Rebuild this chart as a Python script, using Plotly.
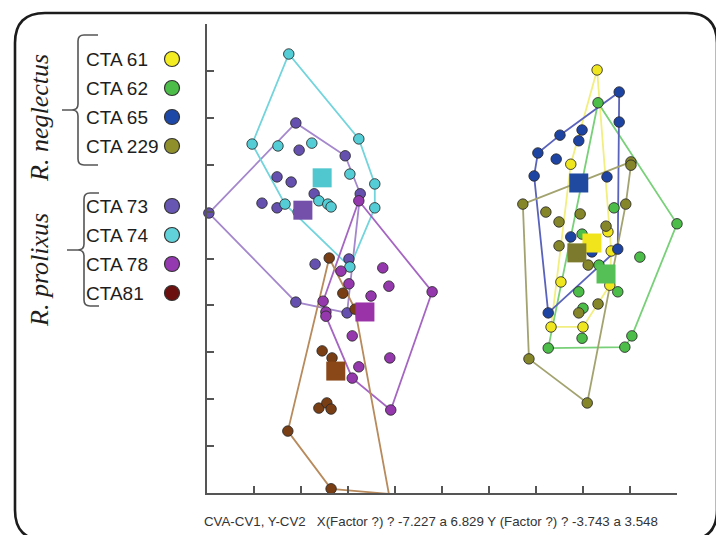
import plotly.graph_objects as go

# ---------------- data (axis units) ----------------
groups = ["CTA 61", "CTA 62", "CTA 65", "CTA 229", "CTA 73", "CTA 74", "CTA 78", "CTA81"]

cta61_x = [8.30, 7.74, 8.53, 8.60, 7.53, 8.57, 7.32, 8.00]
cta61_y = [9.02, 7.01, 5.57, 5.16, 4.50, 4.43, 3.54, 3.54]

cta62_x = [8.32, 8.66, 10.00, 7.98, 9.21, 8.34, 7.91, 8.74, 8.00, 7.98, 9.04, 7.26, 8.89]
cta62_y = [8.32, 6.08, 5.74, 5.52, 5.03, 4.86, 4.29, 4.29, 3.94, 3.30, 3.35, 3.09, 3.11]

cta65_x = [8.77, 8.77, 7.98, 7.51, 7.91, 7.04, 7.43, 6.96, 8.51, 7.74, 8.19, 8.74, 7.26]
cta65_y = [8.55, 7.91, 7.74, 7.63, 7.51, 7.25, 7.12, 6.76, 6.74, 5.46, 5.14, 5.20, 3.84]

cta229_x = [9.02, 9.02, 6.72, 8.91, 7.21, 7.94, 7.49, 8.49, 7.49, 8.11, 8.32, 7.91, 6.85, 8.09]
cta229_y = [7.06, 6.99, 6.16, 6.16, 5.99, 5.95, 5.78, 5.69, 5.27, 4.86, 4.03, 3.84, 2.86, 1.92]

cta73_x = [1.89, 1.96, 2.94, 1.49, 1.79, 1.17, 1.49, 2.28, 0.04, 3.26, 3.02, 2.30, 1.89, 2.98]
cta73_y = [7.89, 7.31, 7.19, 6.74, 6.63, 6.18, 6.08, 6.38, 5.97, 6.38, 4.99, 4.88, 4.07, 3.84]

cta74_x = [1.74, 0.96, 1.51, 2.23, 3.23, 3.04, 3.57, 3.57, 1.66, 2.38, 2.57, 2.64, 1.94, 3.04]
cta74_y = [9.36, 7.44, 7.40, 7.46, 7.55, 6.80, 6.59, 6.08, 6.16, 6.23, 6.16, 6.10, 5.99, 4.82]

cta78_x = [3.23, 2.85, 3.74, 3.87, 3.02, 3.49, 4.79, 2.47, 2.53, 2.53, 3.09, 3.89, 3.23, 3.09, 3.91]
cta78_y = [6.23, 4.73, 4.80, 4.41, 4.46, 4.20, 4.29, 4.09, 3.86, 3.77, 3.35, 2.88, 2.69, 2.45, 1.77]

cta81_x = [2.60, 2.89, 3.15, 2.45, 2.66, 2.38, 2.55, 2.64, 1.72, 2.64, 3.87]
cta81_y = [5.01, 4.26, 3.92, 3.03, 2.88, 1.81, 1.92, 1.79, 1.32, 0.09, -0.02]

mean_x = [8.19, 8.49, 7.91, 7.87, 2.04, 2.45, 3.36, 2.74]
mean_y = [5.33, 4.67, 6.61, 5.12, 6.03, 6.72, 3.86, 2.60]

species = ["R. neglectus", "R. prolixus"]
caption = "CVA-CV1, Y-CV2 \u00a0\u00a0X(Factor ?) ? -7.227 a 6.829 Y (Factor ?) ? -3.743 a 3.548"

# ---------------- styles ----------------
pt_color = ["#efe61f", "#4cbd49", "#1e44a3", "#85852a", "#6550b0", "#55cdd6", "#9538ae", "#7a3e14"]
ln_color = ["#f2ee80", "#78d078", "#5a63bb", "#a3a370", "#a487cc", "#72d4dc", "#a565c2", "#b88a5c"]
sq_color = ["#f2e41c", "#55c055", "#1f4aa0", "#7c7a2c", "#7450aa", "#50c6cf", "#9a33a8", "#8a4718"]
lg_color = ["#f4ec22", "#4cbd49", "#1d48a8", "#8f902c", "#6856b3", "#62d2da", "#9539b0", "#6c0f0f"]

series_x = [cta61_x, cta62_x, cta65_x, cta229_x, cta73_x, cta74_x, cta78_x, cta81_x]
series_y = [cta61_y, cta62_y, cta65_y, cta229_y, cta73_y, cta74_y, cta78_y, cta81_y]


def hull(xs, ys):
    pts = sorted(set(zip(xs, ys)))

    def cross(o, a, b):
        return (a[0] - o[0]) * (b[1] - o[1]) - (a[1] - o[1]) * (b[0] - o[0])

    lower, upper = [], []
    for p in pts:
        while len(lower) >= 2 and cross(lower[-2], lower[-1], p) <= 0:
            lower.pop()
        lower.append(p)
    for p in reversed(pts):
        while len(upper) >= 2 and cross(upper[-2], upper[-1], p) <= 0:
            upper.pop()
        upper.append(p)
    h = lower[:-1] + upper[:-1]
    h.append(h[0])
    return [p[0] for p in h], [p[1] for p in h]


# page body adds an 8px offset; figure sized to fit the window
OFF = 8
W, H = 724 - OFF, 535 - OFF
ML, MT = 207 - OFF, 24 - OFF
PW, PH = 470, 469
MR = W - ML - PW
MB = H - MT - PH


def PX(x):  # reference-picture pixel -> paper
    return (x - 207) / PW


def PY(y):
    return (493 - y) / PH


fig = go.Figure()

# hull polygons
for i in range(len(groups)):
    hx, hy = hull(series_x[i], series_y[i])
    fig.add_trace(go.Scatter(x=hx, y=hy, mode="lines",
                             line=dict(color=ln_color[i], width=1.8),
                             hoverinfo="skip", showlegend=False))
# points
for i in range(len(groups)):
    fig.add_trace(go.Scatter(x=series_x[i], y=series_y[i], mode="markers", name=groups[i],
                             marker=dict(size=10.5, color=pt_color[i],
                                         line=dict(color="rgba(40,40,40,0.85)", width=1)),
                             cliponaxis=False, showlegend=False))
# group means
for i in range(len(groups)):
    fig.add_trace(go.Scatter(x=[mean_x[i]], y=[mean_y[i]], mode="markers",
                             marker=dict(size=19, symbol="square", color=sq_color[i],
                                         line=dict(width=0)),
                             cliponaxis=False, showlegend=False))

shapes = []
annotations = []

# rounded frame
L, T, R, B, r = 15, 13, 717, 540, 30
frame = (f"M {PX(L)},{PY(T + r)} Q {PX(L)},{PY(T)} {PX(L + r)},{PY(T)} "
         f"L {PX(R - r)},{PY(T)} Q {PX(R)},{PY(T)} {PX(R)},{PY(T + r)} "
         f"L {PX(R)},{PY(B - r)} Q {PX(R)},{PY(B)} {PX(R - r)},{PY(B)} "
         f"L {PX(L + r)},{PY(B)} Q {PX(L)},{PY(B)} {PX(L)},{PY(B - r)} Z")
shapes.append(dict(type="path", xref="paper", yref="paper", path=frame,
                   line=dict(color="#1c1c1c", width=2.6), layer="below"))


def brace(sx, top, bot, tipx, tipy, hook):
    c = 6
    return (f"M {PX(hook)},{PY(top)} L {PX(sx + c)},{PY(top)} Q {PX(sx)},{PY(top)} {PX(sx)},{PY(top + c)} "
            f"L {PX(sx)},{PY(tipy - c)} Q {PX(sx)},{PY(tipy)} {PX(sx - c)},{PY(tipy)} L {PX(tipx)},{PY(tipy)} "
            f"M {PX(sx - c)},{PY(tipy)} Q {PX(sx)},{PY(tipy)} {PX(sx)},{PY(tipy + c)} "
            f"L {PX(sx)},{PY(bot - c)} Q {PX(sx)},{PY(bot)} {PX(sx + c)},{PY(bot)} L {PX(hook)},{PY(bot)}")


shapes.append(dict(type="path", xref="paper", yref="paper", path=brace(78, 35, 165, 62, 110, 98),
                   line=dict(color="#555555", width=1.6)))
shapes.append(dict(type="path", xref="paper", yref="paper", path=brace(84, 193, 306, 67, 250, 99),
                   line=dict(color="#555555", width=1.6)))

# legend entries (text + circle)
leg_y = [59, 88, 117, 146, 206, 235, 264, 293]
for i, g in enumerate(groups):
    annotations.append(dict(x=PX(84), y=PY(leg_y[i]), xref="paper", yref="paper", text=g,
                            showarrow=False, xanchor="left", yanchor="middle",
                            font=dict(family="Liberation Sans, Arial", size=19, color="#1e1e1e")))
    cx = 172
    rr = 7.5
    shapes.append(dict(type="circle", xref="paper", yref="paper",
                       x0=PX(cx - rr), x1=PX(cx + rr), y0=PY(leg_y[i] + rr), y1=PY(leg_y[i] - rr),
                       fillcolor=lg_color[i], line=dict(color="#333333", width=1.2)))

# species labels
for lab, cy in zip(species, [118, 270]):
    annotations.append(dict(x=PX(39), y=PY(cy), xref="paper", yref="paper",
                            text=f"<i>{lab}</i>", textangle=-90, showarrow=False,
                            xanchor="center", yanchor="middle",
                            font=dict(family="Liberation Serif, Times New Roman", size=26, color="#1e1e1e")))

annotations.append(dict(x=PX(431), y=PY(521), xref="paper", yref="paper", text=caption,
                        showarrow=False, xanchor="center", yanchor="middle",
                        font=dict(family="Liberation Sans, Arial", size=13.3, color="#333333")))

axis_common = dict(range=[0, 10], tick0=0, dtick=1, showticklabels=False, showgrid=False,
                   zeroline=False, showline=True, linecolor="#555555", linewidth=2,
                   ticks="inside", ticklen=7, tickwidth=1.5, tickcolor="#555555", fixedrange=True)

fig.update_layout(
    width=W, height=H, margin=dict(l=ML, r=MR, t=MT, b=MB, autoexpand=False),
    paper_bgcolor="white", plot_bgcolor="white",
    xaxis=axis_common, yaxis=axis_common,
    shapes=shapes, annotations=annotations, showlegend=False,
)

fig.write_html("out.html")
